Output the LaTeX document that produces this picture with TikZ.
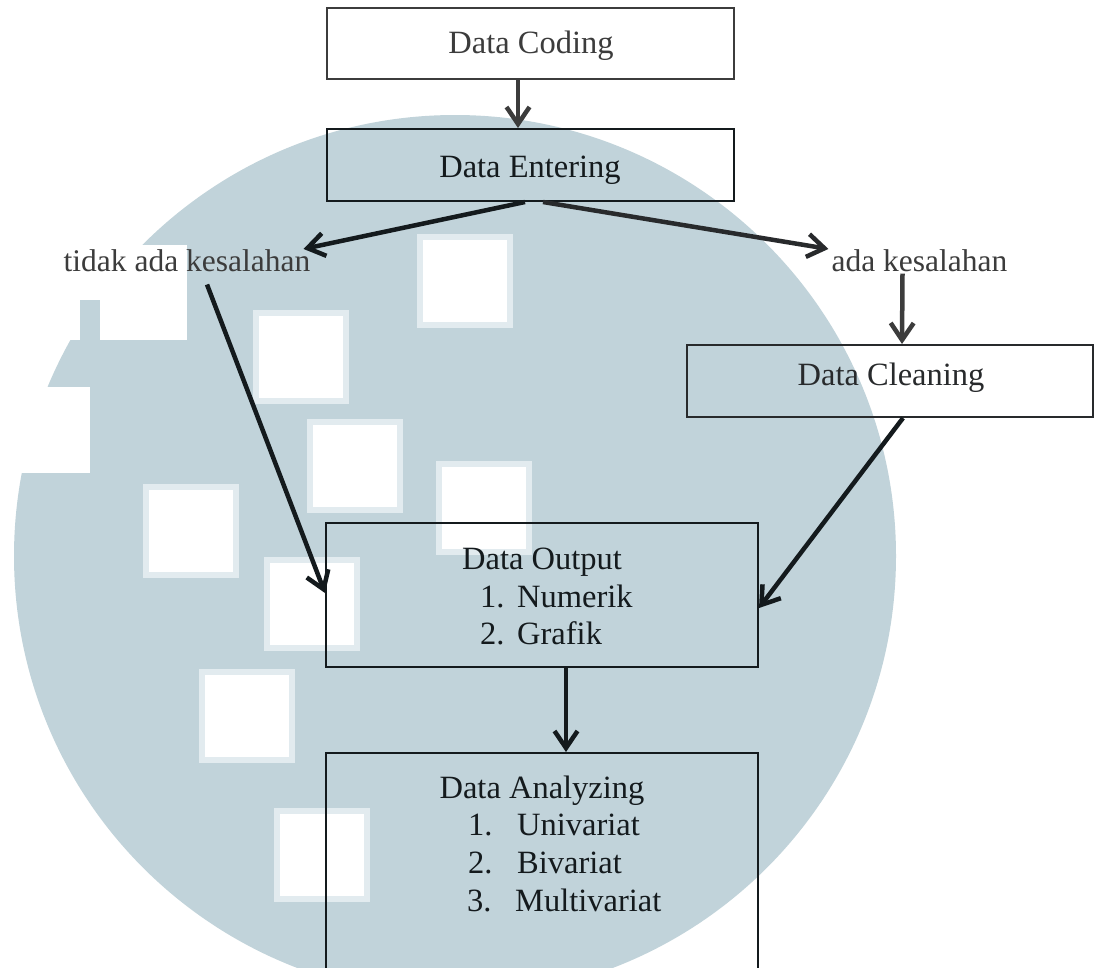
\documentclass[tikz,border=0pt]{standalone}
\usepackage{fontspec}
\setmainfont{Liberation Serif}
\usetikzlibrary{arrows.meta}
\definecolor{wm}{RGB}{193,211,218}
\definecolor{wmhalo}{RGB}{226,235,239}
\definecolor{inkdark}{RGB}{20,26,29}
\definecolor{inkgray}{RGB}{60,60,60}
\definecolor{inkmid}{RGB}{40,42,44}
\begin{document}
\begin{tikzpicture}[x=1pt,y=-1pt,
  box/.style={draw=inkdark, line width=2pt, inner sep=0pt},
  boxtext/.style={font=\fontsize{32.5}{39}\selectfont, inner sep=0pt, anchor=base, text=inkdark},
  lbl/.style={font=\fontsize{31.5}{38}\selectfont, inner sep=0pt, anchor=base, text=inkgray},
  arr/.style={line width=4.5pt, -{Straight Barb[length=17pt,width=23pt]}},
]
\useasboundingbox (0,0) rectangle (1094,967);
\fill[white] (0,0) rectangle (1094,967);
% watermark
\fill[wm] (455,556) circle[radius=441pt];
\fill[white] (0,245) rectangle (187,340);
\fill[wm] (80,300) rectangle (100,340);
\fill[white] (0,387) rectangle (90,473);
\foreach \x/\y in {417/234, 253/310, 307/419, 436/461, 143/484, 264/557, 199/669, 274/808} {
  \fill[wmhalo] (\x,\y) rectangle ++(96,94);
  \fill[white] (\x+6,\y+6) rectangle ++(84,82);
}
% boxes
\node[box, draw=inkgray, minimum width=407pt, minimum height=71pt] (coding) at (530.5,43.5) {};
\node[box, minimum width=407pt, minimum height=72pt] (entering) at (530.5,165) {};
\node[box, draw=inkmid, minimum width=406pt, minimum height=72pt] (cleaning) at (890,381) {};
\node[box, minimum width=432pt, minimum height=144pt] (output) at (542,595) {};
\node[box, minimum width=432pt, minimum height=260pt] (analyzing) at (542,883) {};
% box texts
\node[boxtext, text=inkgray] (codingT) at (531,53) {Data Coding};
\node[boxtext] (enteringT) at (530,177) {Data Entering};
\node[boxtext, text=inkmid] (cleaningT) at (891,385) {Data Cleaning};
\node[boxtext] (outputT) at (542,569) {Data Output};
\node[boxtext, anchor=base west] (out1n) at (480,607) {1.};
\node[boxtext, anchor=base west] (out1) at (517,607) {Numerik};
\node[boxtext, anchor=base west] (out2n) at (480,644) {2.};
\node[boxtext, anchor=base west] (out2) at (517,644) {Grafik};
\node[boxtext] (analyzingT) at (542,798) {Data Analyzing};
\node[boxtext, anchor=base west] (an1n) at (468,835) {1.};
\node[boxtext, anchor=base west] (an1) at (517,835) {Univariat};
\node[boxtext, anchor=base west] (an2n) at (468,873) {2.};
\node[boxtext, anchor=base west] (an2) at (517,873) {Bivariat};
\node[boxtext, anchor=base west] (an3n) at (467,911) {3.};
\node[boxtext, anchor=base west] (an3) at (515,911) {Multivariat};
% labels
\node[lbl] (tidak) at (187,271) {tidak ada kesalahan};
\node[lbl] (ada) at (919.5,271) {ada kesalahan};
% connectors
\draw[arr, inkgray] ([xshift=-12.5pt]coding.south) -- ([xshift=-12.5pt]entering.north);
\draw[arr, inkdark] ([xshift=-5.5pt]entering.south) -- ([xshift=-7pt]tidak.north east);
\draw[arr, inkmid] ([xshift=12.5pt]entering.south) -- ([xshift=-3pt]ada.north west);
\draw[arr, inkgray] ([xshift=-17pt,yshift=-2pt]ada.south) -- ([xshift=12pt]cleaning.north);
\draw[arr, inkdark] ([xshift=20pt,yshift=-13pt]tidak.south) -- ([yshift=2pt]output.west);
\draw[arr, inkdark] ([xshift=13pt]cleaning.south) -- ([yshift=-13pt]output.east);
\draw[arr, inkdark] ([xshift=24pt]output.south) -- ([xshift=24pt]analyzing.north);
\end{tikzpicture}
\end{document}
